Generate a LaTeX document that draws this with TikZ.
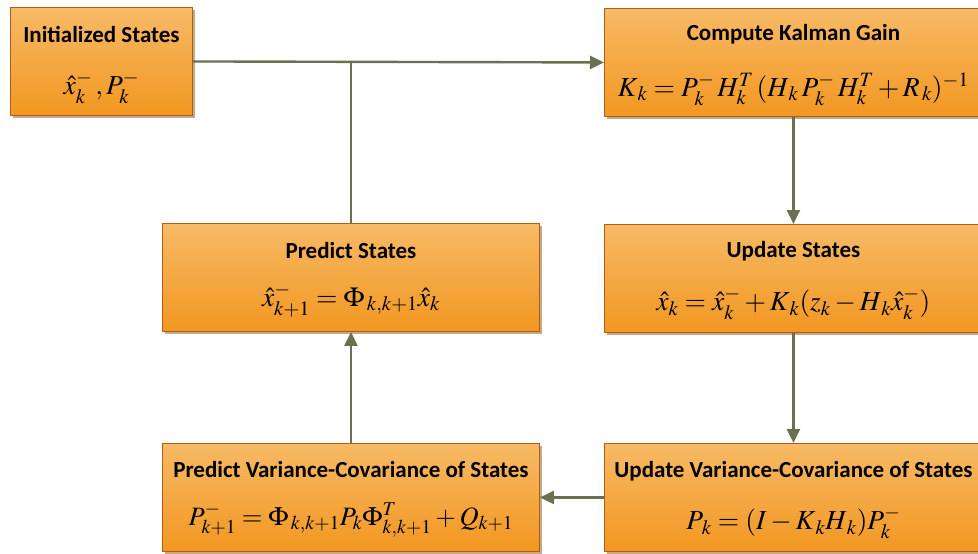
\documentclass[tikz,border=0pt]{standalone}
\usepackage{mathptmx}
\usepackage{fontspec}
\newfontfamily\titlefont{Carlito}
\usetikzlibrary{arrows.meta,shadows,calc}
\definecolor{boxtop}{RGB}{247,186,102}
\definecolor{boxbot}{RGB}{242,151,33}
\definecolor{boxline}{RGB}{180,92,22}
\definecolor{shadecol}{RGB}{192,172,140}
\definecolor{conn}{RGB}{105,114,80}
\begin{document}
\begin{tikzpicture}[x=1pt,y=-1pt,
  box/.style={draw=boxline, line width=0.9pt, top color=boxtop, bottom color=boxbot,
    drop shadow={shadow xshift=3pt, shadow yshift=-3pt, fill=shadecol, opacity=1},
    inner sep=0pt, anchor=north west, minimum height=108pt},
  ttl/.style={font=\titlefont\bfseries\fontsize{23}{26}\selectfont, inner sep=0pt},
  eqn/.style={font=\fontsize{27.5}{32}\selectfont, inner sep=0pt},
  link/.style={draw=conn, line width=2.4pt},
  arr/.style={link, -{Triangle[length=14pt,width=13pt]}}]
\useasboundingbox (0,0) rectangle (978,554);
\clip (0,0) rectangle (978,554);
\node[box, minimum width=182pt] (init) at (10,7) {};
\node[box, minimum width=378pt] (kal) at (604,8) {};
\node[box, minimum width=377pt] (pred) at (162,223) {};
\node[box, minimum width=378pt] (upd) at (604,224) {};
\node[box, minimum width=377pt] (pvar) at (162,443) {};
\node[box, minimum width=378pt] (uvar) at (604,443) {};
\node[ttl] (t1) at ($(init.north)+(0,27)$) {Initialized States};
\node[eqn] (e1) at ($(init.north)+(0,81)$) {$\hat{x}_k^-\,, P_k^-$};
\node[ttl] (t2) at ($(kal.north)+(0,26)$) {Compute Kalman Gain};
\node[eqn] (e2) at ($(kal.north)+(0,81)$) {$K_{\,k} = P_k^-\, H_k^T\, (H_{\,k}\, P_k^-\, H_k^T + R_{\,k})^{-1}$};
\node[ttl] (t3) at ($(pred.north)+(0,28)$) {Predict States};
\node[eqn] (e3) at ($(pred.north)+(0,77)$) {$\hat{x}_{k+1}^- = \Phi_{\,k,k+1}\hat{x}_k$};
\node[ttl] (t4) at ($(upd.north)+(0,27)$) {Update States};
\node[eqn] (e4) at ($(upd.north)+(0,80)$) {$\hat{x}_k = \hat{x}_k^- + K_{\,k}(z_k - H_{\,k}\hat{x}_k^-)$};
\node[ttl] (t5) at ($(pvar.north)+(0,27)$) {Predict Variance-Covariance of States};
\node[eqn, font=\fontsize{26.5}{30}\selectfont] (e5) at ($(pvar.north)+(0,77)$) {$P_{k+1}^- = \Phi_{\,k,k+1}P_k\Phi_{k,k+1}^T + Q_{k+1}$};
\node[ttl] (t6) at ($(uvar.north)+(0,28)$) {Update Variance-Covariance of States};
\node[eqn] (e6) at ($(uvar.north)+(0,80)$) {$P_{\,k} = (I - K_{\,k} H_{\,k})P_k^-$};
\draw[arr] (init.east) -- (kal.west);
\draw[link] (pred.north) -- (pred.north |- init.east);
\draw[arr] (kal.south) -- (upd.north);
\draw[arr] (upd.south) -- (uvar.north);
\draw[arr] (uvar.west) -- (pvar.east);
\draw[arr] (pvar.north) -- (pred.south);
\end{tikzpicture}
\end{document}
